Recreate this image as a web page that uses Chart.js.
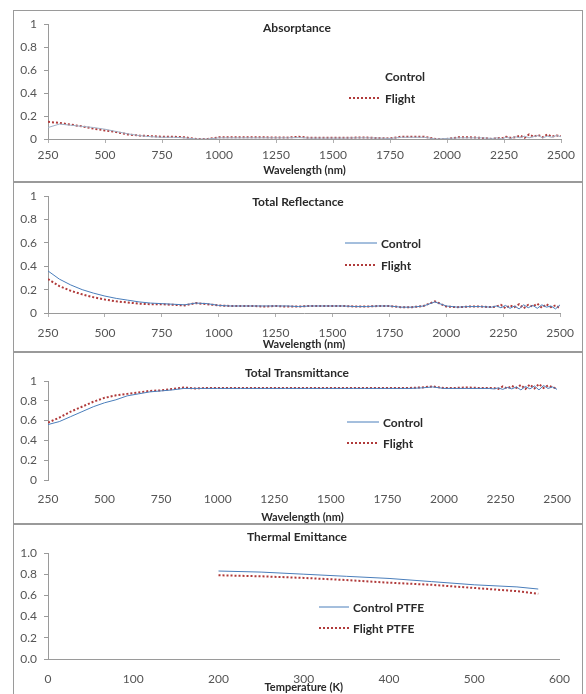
<!DOCTYPE html>
<html>
<head>
<meta charset="utf-8">
<script src="https://cdn.jsdelivr.net/npm/chart.js@4.4.1/dist/chart.umd.min.js"></script>
<style>
  body { margin: 0; background: #fff; }
  #frame { position: absolute; left: 13px; top: 10px; width: 570px; height: 690px;
           border: 1px solid #9a9a9a; border-bottom: none; box-sizing: border-box; }
  .sep { position: absolute; left: 13px; width: 570px; height: 2px; background: #9a9a9a; }
  canvas { position: absolute; left: 13px; }
</style>
</head>
<body>
<div id="frame"></div>
<div class="sep" style="top:181px"></div>
<div class="sep" style="top:351px"></div>
<div class="sep" style="top:523px"></div>
<canvas id="absorptance" width="570" height="172" style="top:10px"></canvas>
<canvas id="reflectance" width="570" height="170" style="top:182px"></canvas>
<canvas id="transmittance" width="570" height="172" style="top:352px"></canvas>
<canvas id="emittance" width="570" height="170" style="top:524px"></canvas>
<script>
// wavelength (nm), 50 nm steps then 20 nm steps in the noisy tail
const wavelengths = [250, 300, 350, 400, 450, 500, 550, 600, 650, 700, 750, 800, 850, 900, 950,
  1000, 1050, 1100, 1150, 1200, 1250, 1300, 1350, 1400, 1450, 1500, 1550, 1600, 1650, 1700,
  1750, 1800, 1850, 1900, 1950, 2000, 2050, 2100, 2150, 2200,
  2220, 2240, 2260, 2280, 2300, 2320, 2340, 2360, 2380, 2400, 2420, 2440, 2460, 2480, 2500];

const absorptanceControl = [0.10, 0.13, 0.12, 0.11, 0.10, 0.085, 0.065, 0.045, 0.03, 0.02, 0.015, 0.015, 0.01, 0.0, 0.0,
  0.01, 0.01, 0.01, 0.01, 0.01, 0.01, 0.01, 0.012, 0.008, 0.008, 0.008, 0.008, 0.01, 0.01, 0.008,
  0.005, 0.015, 0.015, 0.015, 0.0, 0.005, 0.01, 0.01, 0.01, 0.005,
  0.01, 0.0, 0.015, 0.005, 0.02, 0.01, 0.025, 0.01, 0.02, 0.03, 0.01, 0.025, 0.015, 0.03, 0.02];
const absorptanceFlight = [0.15, 0.14, 0.125, 0.11, 0.09, 0.075, 0.06, 0.04, 0.03, 0.025, 0.02, 0.02, 0.015, 0.0, 0.0,
  0.015, 0.015, 0.015, 0.015, 0.015, 0.012, 0.012, 0.02, 0.01, 0.01, 0.01, 0.01, 0.012, 0.012, 0.008,
  0.005, 0.02, 0.02, 0.02, 0.0, 0.0, 0.015, 0.015, 0.01, 0.0,
  0.01, 0.005, 0.02, 0.01, 0.015, 0.03, 0.01, 0.04, 0.02, 0.035, 0.015, 0.04, 0.02, 0.03, 0.025];

const reflectanceControl = [0.36, 0.29, 0.24, 0.20, 0.17, 0.145, 0.125, 0.11, 0.095, 0.085, 0.08, 0.075, 0.07, 0.085, 0.08,
  0.065, 0.06, 0.06, 0.06, 0.06, 0.06, 0.06, 0.055, 0.06, 0.06, 0.06, 0.06, 0.055, 0.055, 0.06,
  0.06, 0.05, 0.05, 0.06, 0.095, 0.06, 0.05, 0.055, 0.055, 0.05,
  0.06, 0.045, 0.065, 0.04, 0.06, 0.035, 0.07, 0.045, 0.065, 0.04, 0.07, 0.05, 0.06, 0.035, 0.07];
const reflectanceFlight = [0.29, 0.23, 0.19, 0.16, 0.135, 0.115, 0.10, 0.09, 0.08, 0.075, 0.075, 0.07, 0.065, 0.085, 0.075,
  0.065, 0.06, 0.06, 0.06, 0.055, 0.06, 0.055, 0.055, 0.06, 0.06, 0.06, 0.06, 0.055, 0.055, 0.06,
  0.06, 0.05, 0.05, 0.06, 0.10, 0.055, 0.05, 0.055, 0.055, 0.05,
  0.055, 0.07, 0.04, 0.065, 0.05, 0.075, 0.04, 0.07, 0.055, 0.08, 0.045, 0.075, 0.05, 0.065, 0.04];

const transmittanceControl = [0.56, 0.59, 0.64, 0.69, 0.74, 0.78, 0.81, 0.85, 0.87, 0.89, 0.90, 0.91, 0.925, 0.925, 0.925,
  0.925, 0.925, 0.925, 0.925, 0.925, 0.925, 0.925, 0.925, 0.925, 0.925, 0.925, 0.925, 0.925, 0.925, 0.925,
  0.925, 0.925, 0.925, 0.93, 0.94, 0.925, 0.925, 0.925, 0.925, 0.925,
  0.92, 0.93, 0.915, 0.935, 0.92, 0.94, 0.91, 0.945, 0.92, 0.95, 0.91, 0.955, 0.925, 0.94, 0.915];
const transmittanceFlight = [0.58, 0.63, 0.69, 0.74, 0.79, 0.83, 0.855, 0.87, 0.885, 0.90, 0.905, 0.92, 0.935, 0.925, 0.93,
  0.93, 0.93, 0.93, 0.93, 0.93, 0.93, 0.93, 0.93, 0.93, 0.93, 0.93, 0.93, 0.93, 0.93, 0.93,
  0.93, 0.93, 0.93, 0.935, 0.945, 0.93, 0.93, 0.935, 0.93, 0.93,
  0.93, 0.92, 0.945, 0.925, 0.95, 0.93, 0.96, 0.92, 0.965, 0.925, 0.97, 0.93, 0.955, 0.935, 0.925];

// temperature (K)
const temperatures = [200, 250, 300, 350, 400, 450, 500, 550, 575];
const emittanceControl = [0.83, 0.82, 0.80, 0.78, 0.76, 0.73, 0.70, 0.68, 0.66];
const emittanceFlight = [0.79, 0.78, 0.765, 0.745, 0.72, 0.70, 0.67, 0.64, 0.615];

const wavelengthTicks = [250, 500, 750, 1000, 1250, 1500, 1750, 2000, 2250, 2500];
const temperatureTicks = [0, 100, 200, 300, 400, 500, 600];

const FONT = 'Lato, "Open Sans", sans-serif';
const BLUE = '#4a7ebb';
const RED = '#b03a3a';

// draws the in-plot title and the little legend like the Excel original
const panelText = {
  id: 'panelText',
  afterDraw(chart, args, opts) {
    const ctx = chart.ctx;
    ctx.save();
    ctx.fillStyle = '#2a2a2a';
    ctx.textBaseline = 'middle';
    ctx.font = 'bold 12px ' + FONT;
    ctx.textAlign = 'center';
    ctx.fillText(opts.title, opts.titleX, opts.titleY);
    ctx.textAlign = 'left';
    opts.legend.forEach(item => {
      if (item.color) {
        ctx.strokeStyle = item.color;
        ctx.lineWidth = item.width;
        ctx.setLineDash(item.dash);
        ctx.beginPath();
        ctx.moveTo(opts.lineX0, item.y);
        ctx.lineTo(opts.lineX1, item.y);
        ctx.stroke();
        ctx.setLineDash([]);
      }
      ctx.fillText(item.text, opts.lineX1 + 4, item.y + 1);
    });
    ctx.restore();
  }
};

function series(xs, ys) {
  return xs.map((x, i) => ({ x: x, y: ys[i] }));
}

function createPanel(id, cfg) {
  const ctx = document.getElementById(id).getContext('2d');
  return new Chart(ctx, {
    type: 'line',
    data: {
      datasets: [{
        label: cfg.names[0],
        data: series(cfg.xs, cfg.control),
        borderColor: cfg.controlColor || BLUE,
        borderWidth: 1,
        pointRadius: 0,
        fill: false
      }, {
        label: cfg.names[1],
        data: series(cfg.xs, cfg.flight),
        borderColor: RED,
        borderWidth: 2,
        borderDash: [2, 2],
        pointRadius: 0,
        fill: false
      }]
    },
    options: {
      responsive: false,
      animation: false,
      layout: { padding: { top: cfg.padTop, right: cfg.padRight, left: 0, bottom: 0 } },
      plugins: {
        legend: { display: false },
        tooltip: { enabled: false },
        panelText: cfg.text
      },
      scales: {
        x: {
          type: 'linear',
          min: cfg.ticks[0],
          max: cfg.ticks[cfg.ticks.length - 1],
          afterBuildTicks: s => { s.ticks = cfg.ticks.map(v => ({ value: v })); },
          afterFit: s => { s.height = cfg.xHeight; },
          grid: { drawOnChartArea: false, drawTicks: cfg.xTicks, tickLength: 4, color: '#b0b0b0' },
          border: { display: cfg.xBorder, color: '#9a9a9a' },
          ticks: { padding: cfg.xPad, maxRotation: 0, color: '#555', font: { family: FONT, size: 12 },
                   callback: v => String(v) },
          title: { display: true, text: cfg.xTitle, color: '#2a2a2a', padding: { top: 0, bottom: cfg.titlePad },
                   font: { family: FONT, size: 11, weight: 'bold' } }
        },
        y: {
          min: 0,
          max: 1,
          ticks: { stepSize: 0.2, padding: 7, color: '#555', font: { family: FONT, size: 12 },
                   callback: v => cfg.fixed ? v.toFixed(1) : String(Math.round(v * 10) / 10) },
          afterFit: s => { s.width = 35; },
          grid: { drawOnChartArea: false, drawTicks: true, tickLength: 4, color: '#9a9a9a' },
          border: { display: true, color: '#9a9a9a' }
        }
      }
    },
    plugins: [panelText]
  });
}

createPanel('absorptance', {
  xs: wavelengths, control: absorptanceControl, flight: absorptanceFlight,
  names: ['Control', 'Flight'], controlColor: '#9fb0c6', ticks: wavelengthTicks,
  padTop: 9, padRight: 22, xHeight: 43, xPad: 5, xTicks: true, xBorder: true, titlePad: 5,
  xTitle: 'Wavelength (nm)',
  text: { title: 'Absorptance', titleX: 284, titleY: 18, lineX0: 336, lineX1: 368,
          legend: [{ text: 'Control', y: 66 },
                   { text: 'Flight', y: 88, color: RED, width: 2, dash: [2, 2] }] }
});

createPanel('reflectance', {
  xs: wavelengths, control: reflectanceControl, flight: reflectanceFlight,
  names: ['Control', 'Flight'], ticks: wavelengthTicks,
  padTop: 8, padRight: 22, xHeight: 39, xPad: 9, xTicks: true, xBorder: true, titlePad: 1,
  xTitle: 'Wavelength (nm)',
  text: { title: 'Total Reflectance', titleX: 285, titleY: 20, lineX0: 332, lineX1: 364,
          legend: [{ text: 'Control', y: 61, color: BLUE, width: 1, dash: [] },
                   { text: 'Flight', y: 83, color: RED, width: 2, dash: [2, 2] }] }
});

createPanel('transmittance', {
  xs: wavelengths, control: transmittanceControl, flight: transmittanceFlight,
  names: ['Control', 'Flight'], ticks: wavelengthTicks,
  padTop: 29, padRight: 22, xHeight: 44, xPad: 12, xTicks: false, xBorder: false, titlePad: 0,
  xTitle: 'Wavelength (nm)',
  text: { title: 'Total Transmittance', titleX: 284, titleY: 21, lineX0: 334, lineX1: 366,
          legend: [{ text: 'Control', y: 70, color: BLUE, width: 1, dash: [] },
                   { text: 'Flight', y: 91, color: RED, width: 2, dash: [2, 2] }] }
});

createPanel('emittance', {
  xs: temperatures, control: emittanceControl, flight: emittanceFlight,
  names: ['Control PTFE', 'Flight PTFE'], ticks: temperatureTicks, fixed: true,
  padTop: 29, padRight: 20, xHeight: 35, xPad: 13, xTicks: false, xBorder: true, titlePad: 0,
  xTitle: 'Temperature (K)',
  text: { title: 'Thermal Emittance', titleX: 284, titleY: 13, lineX0: 306, lineX1: 336,
          legend: [{ text: 'Control PTFE', y: 83, color: BLUE, width: 1, dash: [] },
                   { text: 'Flight PTFE', y: 104, color: RED, width: 2, dash: [2, 2] }] }
});
</script>
</body>
</html>
